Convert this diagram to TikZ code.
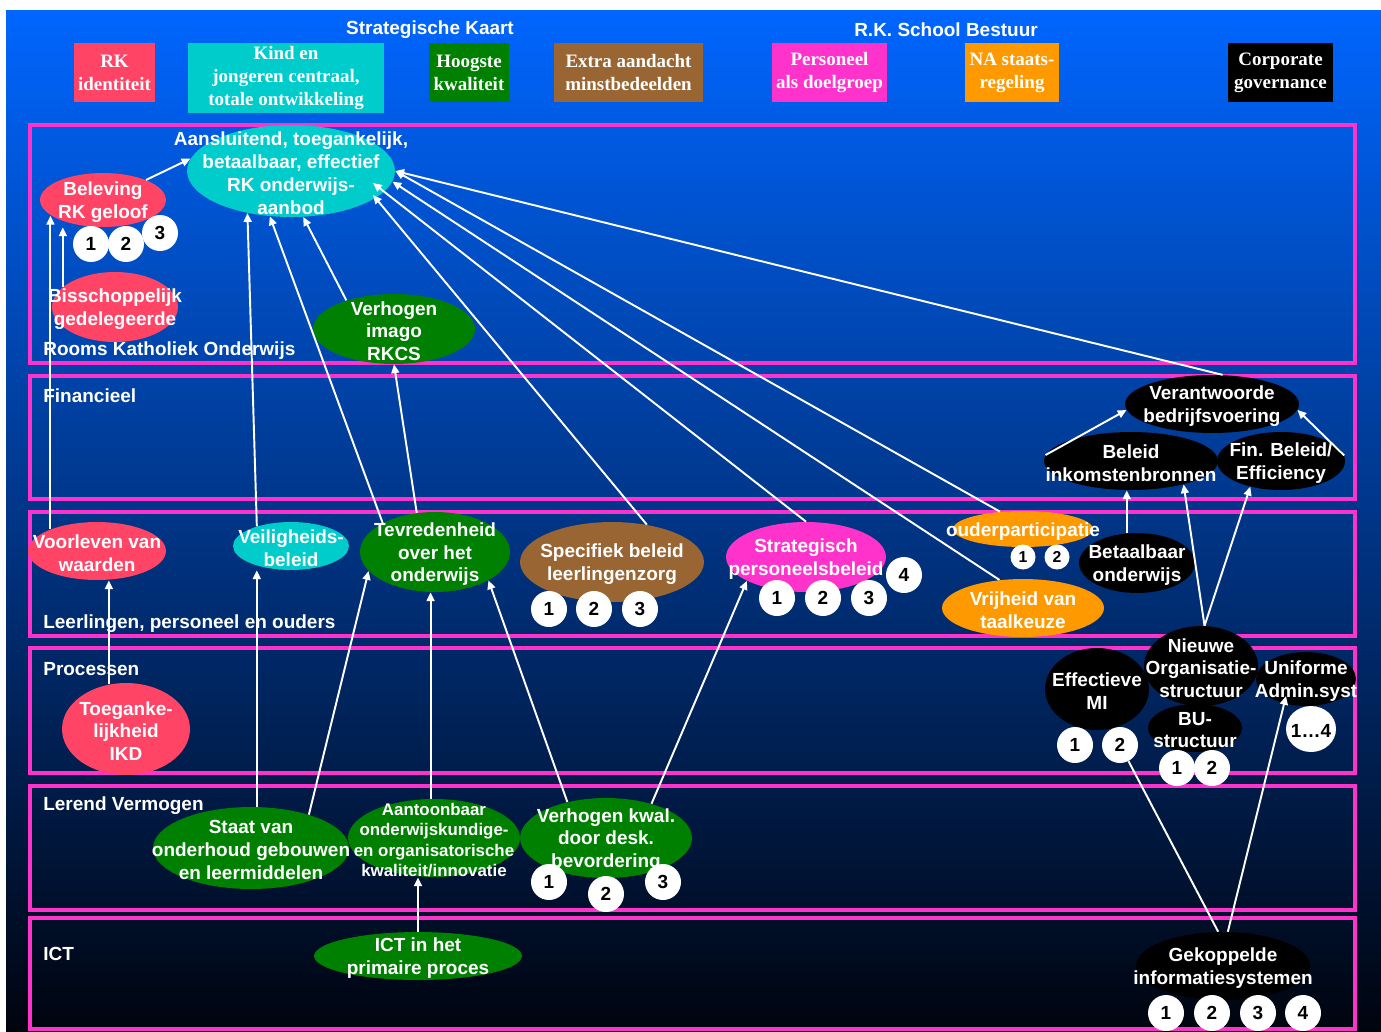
\documentclass[tikz,border=0pt]{standalone}
\usepackage{fontspec}
\setmainfont{Liberation Sans}
\newfontfamily\hdrfont{Liberation Serif}
\usetikzlibrary{arrows.meta,shapes.geometric,calc}
\definecolor{rkRed}{HTML}{FF4466}
\definecolor{kindCyan}{HTML}{00CCCC}
\definecolor{kwalGreen}{HTML}{008000}
\definecolor{extraBrown}{HTML}{996633}
\definecolor{persPink}{HTML}{FF33CC}
\definecolor{naOrange}{HTML}{FF9900}
\definecolor{laneColor}{HTML}{FF33CC}
\definecolor{bgTop}{HTML}{0066FF}
\definecolor{bgMid}{HTML}{0046AF}
\definecolor{bgBot}{HTML}{00040E}
\newcommand{\lbl}{\fontsize{10.8}{13}\selectfont\bfseries}
\newcommand{\smalllbl}{\fontsize{9.6}{11.6}\selectfont\bfseries}
\tikzset{
	bubble/.style={ellipse, draw=none, inner sep=0pt},
	radii/.style 2 args={minimum width=#1*0.04cm, minimum height=#2*0.04cm},
	boxsize/.style 2 args={minimum width=#1*0.02cm, minimum height=#2*0.02cm},
	txt/.style={text=white, align=center, font=\lbl, inner sep=0pt, yshift=-1.2pt},
	hdr/.style={rectangle, text=white, align=center, font=\hdrfont\lbl, inner sep=0pt},
	lane/.style={draw=laneColor, line width=2.2pt},
	lanename/.style={anchor=west, text=white, font=\lbl, inner sep=0pt, yshift=-1.2pt},
	num/.style={circle, fill=white, text=black, font=\lbl, inner sep=0pt, minimum size=0.72cm},
	smallnum/.style={num, minimum size=0.5cm, font=\fontsize{9}{10}\selectfont\bfseries},
	link/.style={draw=white, line width=1.1pt, ->}
}
% name, position, rx, ry (px), fill, text
\newcommand{\bubble}[7][]{%
	\node[bubble, fill=#6, radii={#4}{#5}] at (#3) (#2) {};
	\node[txt, #1] at (#2) (#2-t) {#7};}

\begin{document}
\begin{tikzpicture}[x=0.02cm, y=-0.02cm, >={Triangle[length=5pt,width=4.5pt]}]
	\fill[white] (0,0) rectangle (1381,1031);
	\useasboundingbox (0,0) rectangle (1381,1031);
	\shade[top color=bgTop, middle color=bgMid, bottom color=bgBot] (6,10) rectangle (1381,1031);

	% header
	\node[txt] at (430,28) (kaart) {Strategische Kaart};
	\node[txt] at (946,28) (bestuur) {R.K. School Bestuur};
	\node[hdr, fill=rkRed, boxsize={81}{59}] at (114.5,72.5) (rk) {RK\\identiteit};
	\node[hdr, fill=kindCyan, boxsize={196}{70}] at (286,78) (kind) {Kind en\\jongeren centraal,\\totale ontwikkeling};
	\node[hdr, fill=kwalGreen, boxsize={80}{59}] at (469,72.5) (hoog) {Hoogste\\kwaliteit};
	\node[hdr, fill=extraBrown, boxsize={149}{59}] at (628.5,72.5) (extra) {Extra aandacht\\minstbedeelden};
	\node[hdr, fill=persPink, boxsize={115}{59}] at (829.5,72.5) (pers) {Personeel\\als doelgroep};
	\node[hdr, fill=naOrange, boxsize={94}{59}] at (1012,72.5) (na) {NA staats-\\regeling};
	\node[hdr, fill=black, boxsize={105}{59}] at (1280.5,72.5) (corp) {Corporate\\governance};

	% lanes
	\draw[lane] (30,125) rectangle (1355,363);
	\draw[lane] (30,376) rectangle (1355,499);
	\draw[lane] (30,512) rectangle (1355,636);
	\draw[lane] (30,648) rectangle (1355,773);
	\draw[lane] (30,786) rectangle (1355,910);
	\draw[lane] (30,918) rectangle (1355,1029);
	\node[lanename] at (43,348) (rko) {Rooms Katholiek Onderwijs};
	\node[lanename] at (43,394) (finl) {Financieel};
	\node[lanename] at (43,622) (lpo) {Leerlingen, personeel en ouders};
	\node[lanename] at (43,667) (proc) {Processen};
	\node[lanename] at (43,804) (lerv) {Lerend Vermogen};
	\node[lanename] at (43,952) (ictl) {ICT};

	% bubbles
	\bubble{bel}{103,200}{63}{27}{rkRed}{Beleving\\RK geloof}
	\bubble{aan}{291,171}{104}{46}{kindCyan}{Aansluitend, toegankelijk,\\betaalbaar, effectief\\RK onderwijs-\\aanbod}
	\bubble{bis}{115,307}{63}{35}{rkRed}{Bisschoppelijk\\gedelegeerde}
	\bubble{ima}{394,329}{81}{35}{kwalGreen}{Verhogen\\imago\\RKCS}
	\bubble{ver}{1212,404}{87}{29}{black}{Verantwoorde\\bedrijfsvoering}
	\bubble{ink}{1131,461}{87}{29}{black}{Beleid\\inkomstenbronnen}
	\bubble{fin}{1281,461}{64}{29}{black}{Fin. Beleid/\\Efficiency}
	\bubble{voo}{97,551}{69}{29}{rkRed}{Voorleven van\\waarden}
	\bubble{vei}{291,546}{58}{24}{kindCyan}{Veiligheids-\\beleid}
	\bubble{tev}{435,552}{75}{40}{kwalGreen}{Tevredenheid\\over het\\onderwijs}
	\bubble{spe}{612,562}{92}{40}{extraBrown}{Specifiek beleid\\leerlingenzorg}
	\bubble{str}{806,557}{80}{35}{persPink}{Strategisch\\personeelsbeleid}
	\bubble{oud}{1023,529}{70}{18}{naOrange}{ouderparticipatie}
	\bubble{bet}{1137,563}{58}{30}{black}{Betaalbaar\\onderwijs}
	\bubble{vri}{1023,608}{81}{29}{naOrange}{Vrijheid van\\taalkeuze}
	\bubble{toe}{126,729}{64}{46}{rkRed}{Toeganke-\\lijkheid\\IKD}
	\bubble{eff}{1097,689}{52}{41}{black}{Effectieve\\MI}
	\bubble{nie}{1201,666}{57}{40}{black}{Nieuwe\\Organisatie-\\structuur}
	\bubble{uni}{1306,679}{50}{27}{black}{Uniforme\\Admin.syst}
	\bubble{bus}{1195,728}{47}{24}{black}{BU-\\structuur}
	\bubble[text=black]{unin}{1311,729}{25}{23}{white}{1…4}
	\bubble{sta}{251,848}{98}{41}{kwalGreen}{Staat van\\onderhoud gebouwen\\en leermiddelen}
	\bubble[font=\smalllbl]{aat}{434,838}{86}{39}{kwalGreen}{Aantoonbaar\\onderwijskundige-\\en organisatorische\\kwaliteit/innovatie}
	\bubble{kwa}{606,838}{86}{40}{kwalGreen}{Verhogen kwal.\\door desk.\\bevordering}
	\bubble{ict}{418,956}{104}{24}{kwalGreen}{ICT in het\\primaire proces}
	\bubble{gek}{1223,966}{87}{34}{black}{Gekoppelde\\informatiesystemen}

	% numbers
	\node[num] at (91,244) (bel1) {1};
	\node[num] at (126,244) (bel2) {2};
	\node[num] at (160,233) (bel3) {3};
	\node[num] at (549,609) (spe1) {1};
	\node[num] at (594,609) (spe2) {2};
	\node[num] at (640,609) (spe3) {3};
	\node[num] at (777,598) (str1) {1};
	\node[num] at (823,598) (str2) {2};
	\node[num] at (869,598) (str3) {3};
	\node[num] at (904,575) (str4) {4};
	\node[smallnum] at (1023,557) (oud1) {1};
	\node[smallnum] at (1057,557) (oud2) {2};
	\node[num] at (1075,745) (eff1) {1};
	\node[num] at (1120,745) (eff2) {2};
	\node[num] at (1177,768) (bus1) {1};
	\node[num] at (1212,768) (bus2) {2};
	\node[num] at (549,882) (kwa1) {1};
	\node[num] at (606,894) (kwa2) {2};
	\node[num] at (663,882) (kwa3) {3};
	\node[num] at (1166,1013) (gek1) {1};
	\node[num] at (1212,1013) (gek2) {2};
	\node[num] at (1258,1013) (gek3) {3};
	\node[num] at (1303,1013) (gek4) {4};

	% links
	\draw[link] (bel.25) -- (aan.173);
	\draw[link] (bis.159) -- (bis.159 |- bel.south);
	\draw[link] (voo.155) -- (voo.155 |- bel.197);
	\draw[link] (toe.111) -- (toe.111 |- voo.south);
	\draw[link] (vei.150) -- (aan.224);
	\draw[link] (sta.82) -- (sta.82 |- vei.south);
	\draw[link] (sta.30) -- (tev.196);
	\draw[link] (tev.151) -- (aan.245);
	\draw[link] (tev.115) -- (ima.south);
	\draw[link] (ima.149) -- (aan.285);
	\draw[link] (aat.95) -- (aat.95 |- tev.south);
	\draw[link] (kwa.137) -- (tev.332);
	\draw[link] (kwa.37) -- (str.202);
	\draw[link] (ict.north) -- (ict.north |- aat.south);
	\draw[link] (spe.47) -- ($(aan.center)+(82,24)$);
	\draw[link] (str.north) -- ($(aan.center)+(82,12)$);
	\draw[link] (oud.143) -- (aan.east);
	\draw[link] (vri.130) -- (aan.354);
	\draw[link] (ver.70) -- (aan.east);
	\draw[link] (ink.176) -- (ver.184);
	\draw[link] (fin.5) -- (ver.356);
	\draw[link] (bet.109) -- (bet.109 |- ink.south);
	\draw[link] (nie.85) -- (ink.336);
	\draw[link] (nie.85) -- (fin.220);
	\draw[link] (gek.82) -- ($(uni.center)+(-20,17)$);
	\draw[link, -] (gek.98) -- (eff2);
\end{tikzpicture}
\end{document}
